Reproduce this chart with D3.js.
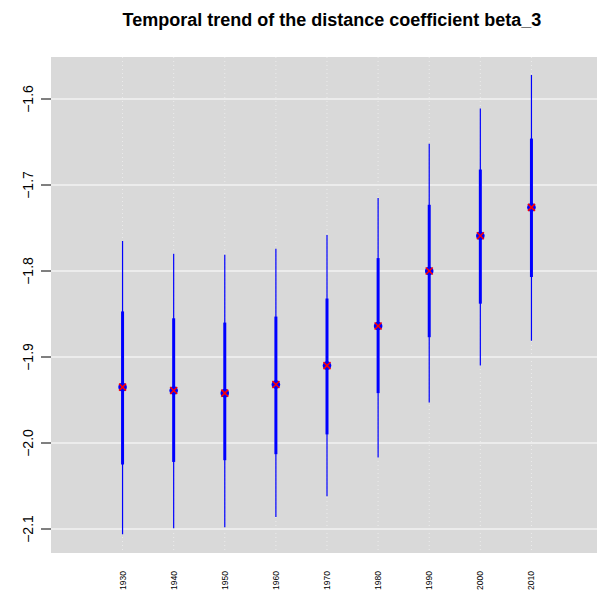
<!DOCTYPE html>
<html>
<head>
<meta charset="utf-8">
<script src="https://cdn.jsdelivr.net/npm/d3@7"></script>
<style>
  html, body { margin: 0; padding: 0; background: #ffffff; }
  svg { display: block; }
</style>
</head>
<body>
<svg id="chart" width="597" height="598"></svg>
<script>
// Decades and estimates of beta_3 with inner and outer intervals
const years     = [1930, 1940, 1950, 1960, 1970, 1980, 1990, 2000, 2010];
const estimate  = [-1.935, -1.939, -1.942, -1.932, -1.910, -1.864, -1.800, -1.759, -1.726];
const innerLow  = [-2.025, -2.022, -2.020, -2.013, -1.990, -1.942, -1.877, -1.838, -1.807];
const innerHigh = [-1.847, -1.855, -1.860, -1.853, -1.832, -1.785, -1.723, -1.682, -1.646];
const outerLow  = [-2.106, -2.099, -2.098, -2.086, -2.062, -2.017, -1.953, -1.910, -1.881];
const outerHigh = [-1.765, -1.780, -1.781, -1.774, -1.758, -1.715, -1.652, -1.611, -1.572];
const yTicks    = [-1.6, -1.7, -1.8, -1.9, -2.0, -2.1];

const svg = d3.select("#chart");
const plot = { left: 51, right: 603, top: 57, bottom: 553 };

const x = d3.scaleLinear().domain([1916, 2024]).range([plot.left, plot.right]);
const y = d3.scaleLinear().domain([-2.1, -1.6]).range([529, 99]);

const rows = years.map((yr, i) => ({
  year: yr, est: estimate[i],
  lo1: innerLow[i], hi1: innerHigh[i],
  lo2: outerLow[i], hi2: outerHigh[i]
}));

// Panel background
svg.append("rect")
  .attr("x", plot.left).attr("y", plot.top)
  .attr("width", plot.right - plot.left).attr("height", plot.bottom - plot.top)
  .attr("fill", "#d9d9d9");

const clip = svg.append("defs").append("clipPath").attr("id", "panel");
clip.append("rect")
  .attr("x", plot.left).attr("y", plot.top)
  .attr("width", plot.right - plot.left).attr("height", plot.bottom - plot.top);

const panel = svg.append("g").attr("clip-path", "url(#panel)");

// Horizontal grid
panel.selectAll("line.hgrid").data(yTicks).join("line")
  .attr("class", "hgrid")
  .attr("x1", plot.left).attr("x2", plot.right)
  .attr("y1", d => y(d)).attr("y2", d => y(d))
  .attr("stroke", "#ececec").attr("stroke-width", 2);

// Vertical dotted grid at each decade
panel.selectAll("line.vgrid").data(years).join("line")
  .attr("class", "vgrid")
  .attr("x1", d => x(d)).attr("x2", d => x(d))
  .attr("y1", plot.top).attr("y2", plot.bottom)
  .attr("stroke", "#ececec").attr("stroke-width", 1)
  .attr("stroke-dasharray", "1,3");

// Outer intervals
panel.selectAll("line.outer").data(rows).join("line")
  .attr("class", "outer")
  .attr("x1", d => x(d.year)).attr("x2", d => x(d.year))
  .attr("y1", d => y(d.lo2)).attr("y2", d => y(d.hi2))
  .attr("stroke", "#0000ff").attr("stroke-width", 1.2);

// Inner intervals
panel.selectAll("line.inner").data(rows).join("line")
  .attr("class", "inner")
  .attr("x1", d => x(d.year)).attr("x2", d => x(d.year))
  .attr("y1", d => y(d.lo1)).attr("y2", d => y(d.hi1))
  .attr("stroke", "#0000ff").attr("stroke-width", 3);

// Estimates: blue dot with red cross
panel.selectAll("circle.est").data(rows).join("circle")
  .attr("class", "est")
  .attr("cx", d => x(d.year)).attr("cy", d => y(d.est))
  .attr("r", 4.3).attr("fill", "#0000ff");

const s = 3.5;
const cross = panel.selectAll("g.cross").data(rows).join("g")
  .attr("class", "cross")
  .attr("transform", d => `translate(${x(d.year)},${y(d.est)})`);
cross.append("line").attr("x1", -s).attr("y1", -s).attr("x2", s).attr("y2", s)
  .attr("stroke", "#ff0000").attr("stroke-width", 1.5);
cross.append("line").attr("x1", -s).attr("y1", s).attr("x2", s).attr("y2", -s)
  .attr("stroke", "#ff0000").attr("stroke-width", 1.5);

// Y axis
const yAxis = svg.append("g");
yAxis.selectAll("line.tick").data(yTicks).join("line")
  .attr("x1", plot.left - 10).attr("x2", plot.left)
  .attr("y1", d => y(d)).attr("y2", d => y(d))
  .attr("stroke", "#000").attr("stroke-width", 1);
yAxis.selectAll("text").data(yTicks).join("text")
  .attr("transform", d => `translate(33,${y(d)}) rotate(-90)`)
  .attr("text-anchor", "middle")
  .attr("font-family", "Liberation Sans, Arial, sans-serif")
  .attr("font-size", 14)
  .attr("fill", "#000")
  .text(d => d3.format(".1f")(d).replace("-", "\u2212"));

// X labels
svg.append("g").selectAll("text").data(years).join("text")
  .attr("transform", d => `translate(${x(d) + 3},571) rotate(-90)`)
  .attr("text-anchor", "end")
  .attr("font-family", "Liberation Sans, Arial, sans-serif")
  .attr("font-size", 8.5)
  .attr("fill", "#000")
  .text(d => d);

// Title
svg.append("text")
  .attr("x", 332).attr("y", 26)
  .attr("text-anchor", "middle")
  .attr("font-family", "Liberation Sans, Arial, sans-serif")
  .attr("font-size", 18)
  .attr("font-weight", "bold")
  .attr("fill", "#000")
  .text("Temporal trend of the distance coefficient beta_3");
</script>
</body>
</html>
